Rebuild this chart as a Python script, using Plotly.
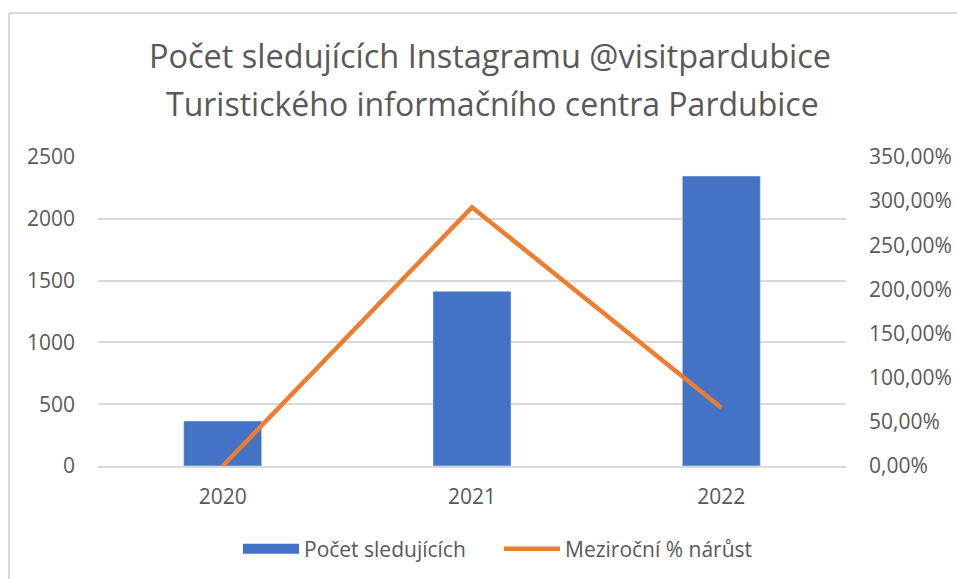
import plotly.graph_objects as go

years = ["2020", "2021", "2022"]
followers = [364, 1413, 2346]
growth = [0.0, 2.93, 0.66]

title_lines = ["Počet sledujících Instagramu @visitpardubice",
               "Turistického informačního centra Pardubice"]
bar_name = "Počet sledujících"
line_name = "Meziroční % nárůst"

W, H = 957, 579
L, R, T, B = 98, 111, 157, 113
pw, ph = W - L - R, H - T - B

font_fam = "Open Sans, sans-serif"
gray = "#595959"
grid = "#d9d9d9"
blue = "#4472C4"
orange = "#ED7D31"

fig = go.Figure()
fig.add_trace(go.Bar(x=years, y=followers, name=bar_name, legendgroup="bar",
                     marker_color=blue, width=0.313, yaxis="y", showlegend=False))
# legend proxy for the bar series (wide flat swatch like the original)
fig.add_trace(go.Scatter(x=[None], y=[None], name=bar_name, legendgroup="bar",
                         mode="lines", line=dict(color=blue, width=15), yaxis="y"))
fig.add_trace(go.Scatter(x=years, y=growth, name=line_name, mode="lines",
                         line=dict(color=orange, width=4.5), yaxis="y2"))

def px_x(x):
    return (x - L) / pw

def px_y(y):
    return (H - B - y) / ph

fig.update_layout(
    width=W, height=H,
    margin=dict(l=L, r=R, t=T, b=B, autoexpand=False),
    paper_bgcolor="white", plot_bgcolor="white",
    separators=", ",
    font=dict(family=font_fam, color=gray, size=21),
    title=dict(text=title_lines[0], x=490 / W, xanchor="center",
               xref="container", y=1 - 57 / H, yanchor="middle", yref="container",
               font=dict(size=32.5, color=gray, family=font_fam)),
    annotations=[dict(text=title_lines[1], xref="paper", yref="paper",
                      x=px_x(492), y=px_y(104), xanchor="center", yanchor="middle",
                      showarrow=False, font=dict(size=32, color=gray, family=font_fam))],
    xaxis=dict(type="category", range=[-0.5, 2.5], showgrid=False,
               showline=True, linecolor=grid, linewidth=1.5, ticks="",
               tickfont=dict(size=21, color=gray), ticklabelstandoff=11),
    yaxis=dict(range=[0, 2500], dtick=500, tickformat="d", showgrid=True,
               gridcolor=grid, gridwidth=1.5, zeroline=False, showline=False,
               tickfont=dict(size=21, color=gray), ticklabelstandoff=22),
    yaxis2=dict(range=[0, 3.5], dtick=0.5, tickformat=".2%", overlaying="y",
                side="right", showgrid=False, zeroline=False, showline=False,
                tickfont=dict(size=21, color=gray), ticklabelstandoff=22),
    legend=dict(orientation="h", x=238 / W, xanchor="left", xref="container",
                y=1 - 549 / H, yanchor="middle", yref="container",
                font=dict(size=21, color=gray), itemwidth=56, tracegroupgap=0,
                entrywidth=190, entrywidthmode="pixels"),
    showlegend=True,
    shapes=[
        dict(type="line", xref="paper", yref="paper", x0=px_x(9), x1=px_x(W + 5),
             y0=px_y(13), y1=px_y(13), line=dict(color=grid, width=2), layer="below"),
        dict(type="line", xref="paper", yref="paper", x0=px_x(9), x1=px_x(9),
             y0=px_y(13), y1=px_y(H + 5), line=dict(color=grid, width=2), layer="below"),
    ],
)

fig.write_html("out.html", config={"displayModeBar": False},
               post_script="document.body.style.margin='0';document.body.style.overflow='hidden';")
